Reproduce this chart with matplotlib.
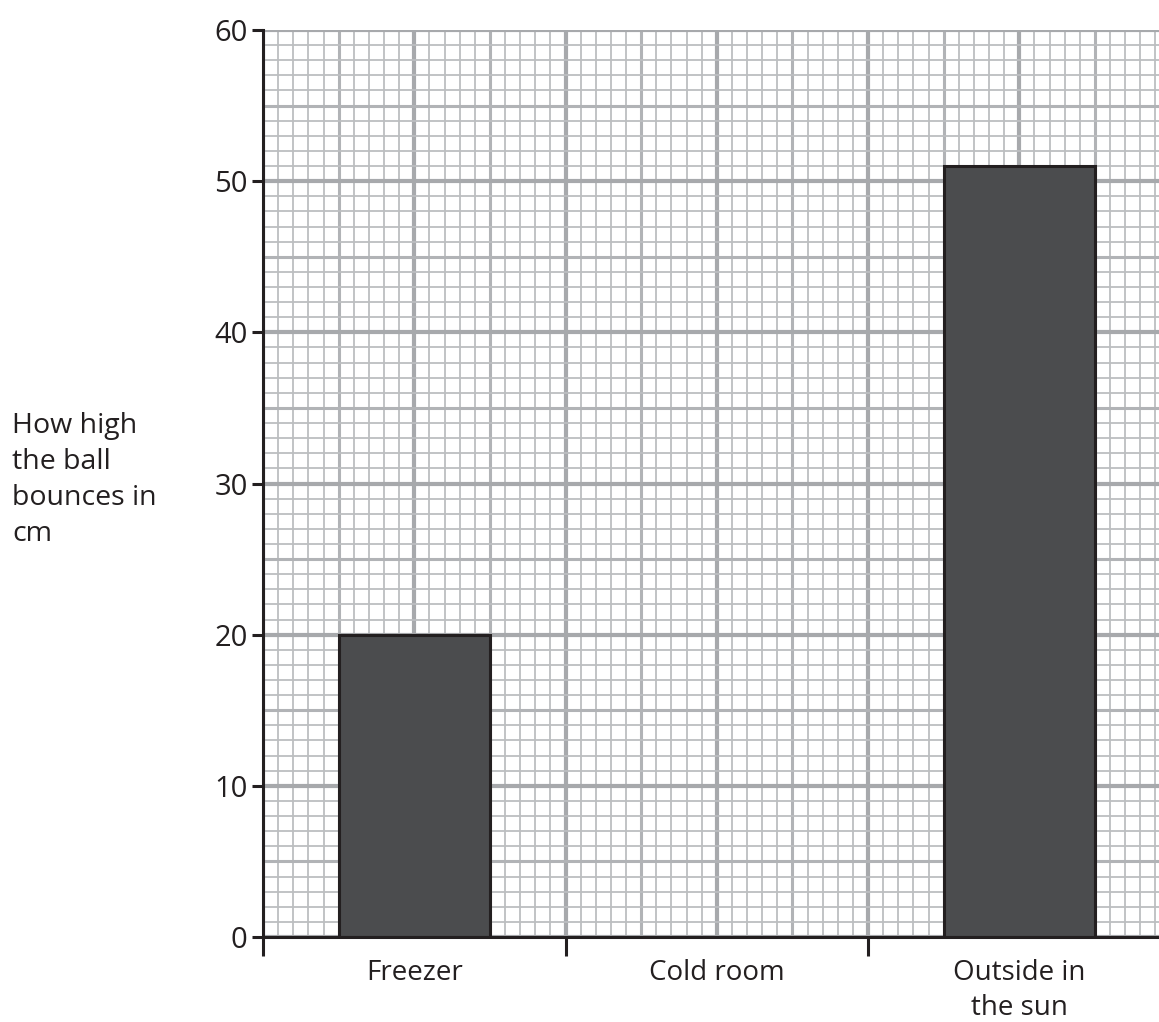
import numpy as np
import matplotlib
matplotlib.use("Agg")
import matplotlib.pyplot as plt

plt.rcParams['font.family'] = ['Open Sans', 'DejaVu Sans']

categories = ["Freezer", "Cold room", "Outside in\nthe sun"]
heights = [20, np.nan, 51]
y_ticks = [0, 10, 20, 30, 40, 50, 60]
y_label = "How high\nthe ball\nbounces in\ncm"

fig = plt.figure(figsize=(11.59, 10.22), dpi=100)
ax = fig.add_axes([263/1159, 1-937/1022, 1-263/1159, (937-30)/1022])

xmax = (1159-263)/302.5

# graph-paper grid: 20 cells per category, 1 cell per cm
cell = 1/20
for i in range(int(xmax/cell)+1):
    x = i*cell
    if i % 10 == 0:
        lw, c = 3.0, '#a7a9ac'
    elif i % 5 == 0:
        lw, c = 2.2, '#b1b3b6'
    else:
        lw, c = 1.3, '#bcbec0'
    ax.axvline(x, color=c, lw=lw, zorder=0)
for j in range(61):
    if j % 10 == 0:
        lw, c = 3.0, '#a7a9ac'
    elif j % 5 == 0:
        lw, c = 2.2, '#b1b3b6'
    else:
        lw, c = 1.3, '#bcbec0'
    ax.axhline(j, color=c, lw=lw, zorder=0)

centers = np.arange(len(categories)) + 0.5
ax.bar(centers, heights, width=0.5, color='#4b4c4e', edgecolor='#231f20',
       linewidth=2.2, zorder=3)

ax.spines['top'].set_visible(False)
ax.spines['right'].set_visible(False)
for s in ('left', 'bottom'):
    ax.spines[s].set_color('#231f20')
    ax.spines[s].set_linewidth(2.2)
    ax.spines[s].set_zorder(4)

ax.set_yticks(y_ticks)
ax.set_yticklabels([str(v) for v in y_ticks], fontsize=21, color='#231f20')
ax.tick_params(axis='y', direction='out', length=8, width=2.2, color='#231f20', pad=3)

ax.set_xticks([0, 1, 2, 3])
ax.set_xticklabels([])
ax.tick_params(axis='x', which='major', direction='out', length=14, width=2.2, color='#231f20')
ax.set_xticks(centers, minor=True)
ax.set_xticklabels(categories, minor=True, fontsize=20, color='#231f20', linespacing=1.3)
ax.tick_params(axis='x', which='minor', length=0, pad=16)

ax.set_xlim(0, xmax)
ax.set_ylim(0, 60)

fig.text(12/1159, 1-412/1022, y_label, fontsize=20.5, color='#231f20',
         ha='left', va='top', linespacing=1.38)

fig.savefig("out.png", dpi=100)
